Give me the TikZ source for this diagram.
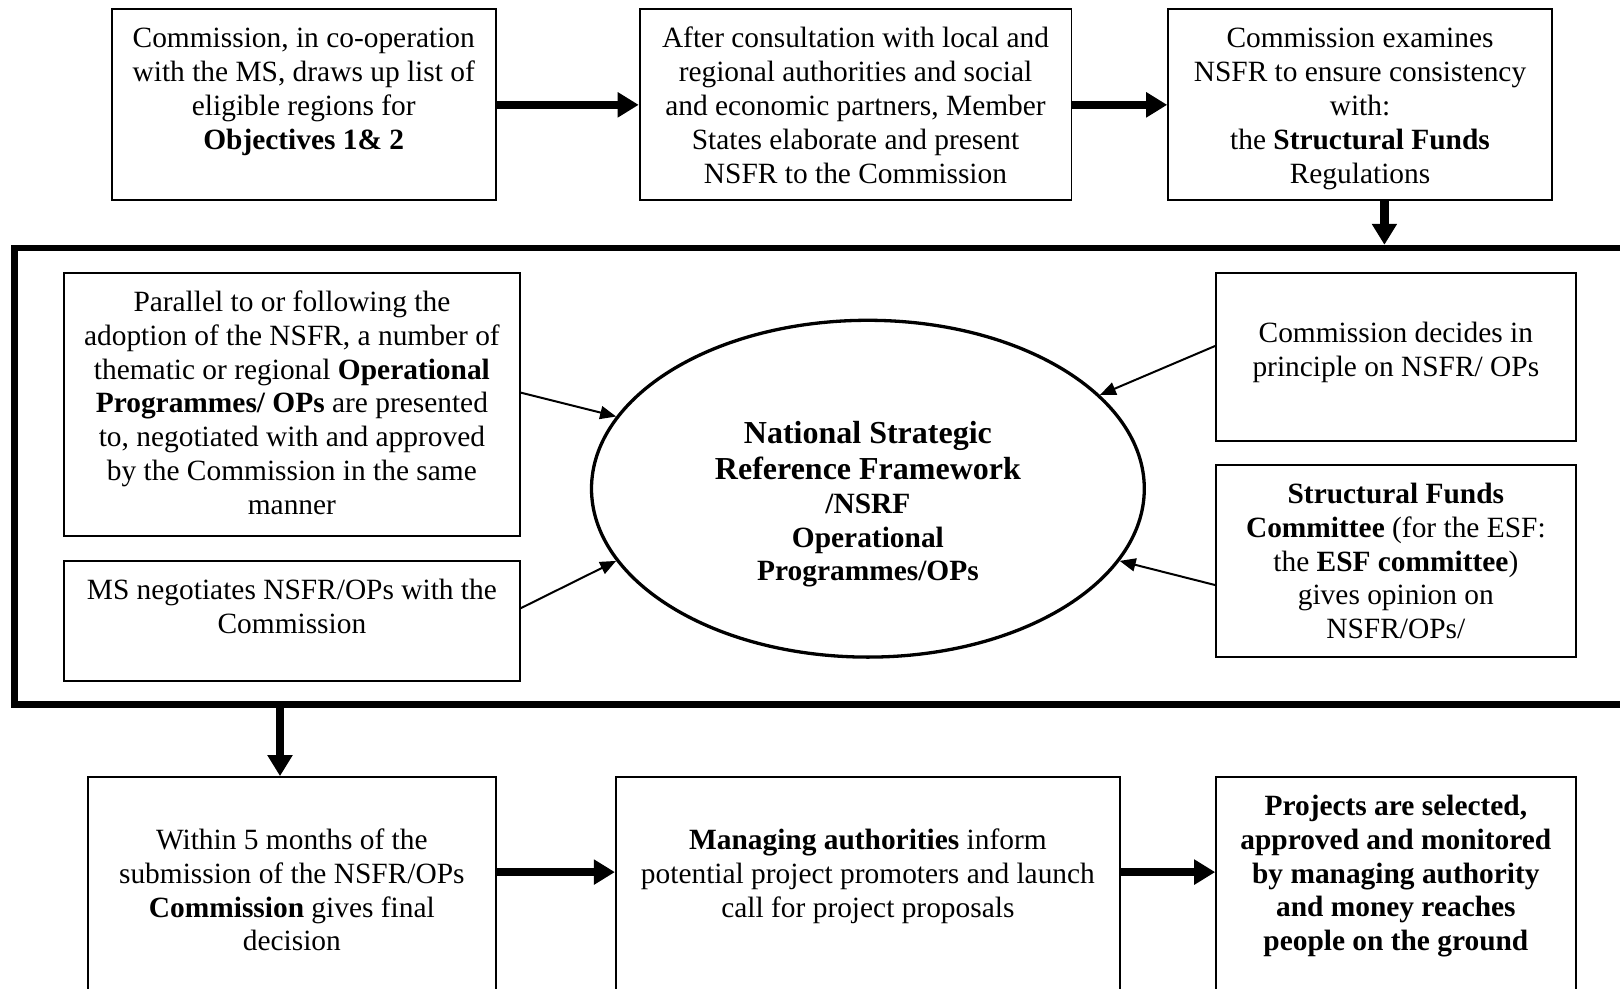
\documentclass[tikz,border=0pt]{standalone}
\usepackage{fontspec}
\setmainfont{Liberation Serif}
\usetikzlibrary{arrows.meta,calc,shapes.geometric}
\begin{document}
\begin{tikzpicture}[x=0.5pt,y=-0.5pt,
  box/.style={draw, rectangle, line width=0.9pt, inner sep=0pt},
  txt/.style={anchor=north, inner sep=0pt, align=center, font=\fontsize{14.7}{16.9}\selectfont},
  etxtbig/.style={anchor=north, inner sep=0pt, align=center, font=\fontsize{16}{18.1}\selectfont\bfseries},
  etxt/.style={anchor=north, inner sep=0pt, align=center, font=\fontsize{14.7}{16.9}\selectfont\bfseries},
  thickarrow/.style={line width=4.2pt, -{Triangle[length=10.5pt,width=12pt]}},
  thinarrow/.style={line width=1pt, -{Triangle[length=8pt,width=6.5pt]}}
]
\path[use as bounding box] (0,0) rectangle (1620,989);
\clip (0,0) rectangle (1620,989);
\def\st{\rule{0pt}{11pt}}
% top row
\node[box, minimum width=192.15pt, minimum height=95.55pt] (b1) at (303.75,104.85) {};
\node[box, minimum width=215.9pt, minimum height=95.55pt] (b2) at (855.5,104.85) {};
\node[box, minimum width=191.9pt, minimum height=95.55pt] (b3) at (1360,104.85) {};
\node[txt] (b1t) at (303.75,25.5) {\st Commission, in co-operation\\ with the MS, draws up list of\\ eligible regions for\\ \textbf{Objectives 1\& 2}};
\node[txt] (b2t) at (855.5,25.5) {\st After consultation with local and\\ regional authorities and social\\ and economic partners, Member\\ States elaborate and present\\ NSFR to the Commission};
\node[txt] (b3t) at (1360,25.5) {\st Commission examines\\ NSFR to ensure consistency\\ with:\\ the \textbf{Structural Funds}\\ Regulations};
% frame
\node[draw, rectangle, line width=3.2pt, inner sep=0pt, minimum width=812.75pt, minimum height=228.3pt] (frame) at (827.25,476.3) {};
% left boxes
\node[box, minimum width=227.8pt, minimum height=131.7pt] (l1) at (291.9,404.5) {};
\node[box, minimum width=227.8pt, minimum height=59.95pt] (l2) at (291.9,620.95) {};
\node[txt] (l1t) at (291.9,289) {\st Parallel to or following the\\ adoption of the NSFR, a number of\\ thematic or regional \textbf{Operational}\\ \textbf{Programmes/ OPs} are presented\\ to, negotiated with and approved\\ by the Commission in the same\\ manner};
\node[txt] (l2t) at (291.9,577) {\st MS negotiates NSFR/OPs with the\\ Commission};
% right boxes
\node[box, minimum width=179.75pt, minimum height=84.2pt] (r1) at (1395.85,357) {};
\node[box, minimum width=179.75pt, minimum height=96.1pt] (r2) at (1395.85,561) {};
\node[txt] (r1t) at (1395.85,320) {\st Commission decides in\\ principle on NSFR/ OPs};
\node[txt] (r2t) at (1395.85,481) {\st \textbf{Structural Funds}\\ \textbf{Committee} (for the ESF:\\ the \textbf{ESF committee})\\ gives opinion on\\ NSFR/OPs/};
% ellipse
\node[draw, ellipse, line width=1.65pt, inner sep=0pt, minimum width=276.4pt, minimum height=168.4pt] (nsrf) at (867.9,488.7) {};
\node[etxtbig] (nsrft) at (867.9,420.4) {\st National Strategic\\ Reference Framework};
\node[etxt] (nsrfu) at (867.9,490.9) {\st /NSRF\\ Operational\\ Programmes/OPs};
% bottom boxes
\node[box, minimum width=204.05pt, minimum height=111.5pt] (d1) at (291.85,888.5) {};
\node[box, minimum width=252.1pt, minimum height=111.5pt] (d2) at (867.9,888.5) {};
\node[box, minimum width=179.75pt, minimum height=111.5pt] (d3) at (1395.85,888.5) {};
\node[txt] (d1t) at (291.85,827) {\st Within 5 months of the\\ submission of the NSFR/OPs\\ \textbf{Commission} gives final\\ decision};
\node[txt] (d2t) at (867.9,827) {\st \textbf{Managing authorities} inform\\ potential project promoters and launch\\ call for project proposals};
\node[txt, font=\fontsize{14.7}{16.9}\selectfont\bfseries] (d3t) at (1395.85,793) {\st Projects are selected,\\ approved and monitored\\ by managing authority\\ and money reaches\\ people on the ground};
% thick arrows
\draw[thickarrow] (b1) -- (b2);
\draw[thickarrow] (b2) -- (b3);
\coordinate (c3) at ($(b3.south)+(24.4,0)$);
\draw[thickarrow] (c3) -- (c3 |- frame.north);
\coordinate (c4) at ($(d1.north)+(-11.85,0)$);
\draw[thickarrow] (c4 |- frame.south) -- (c4);
\draw[thickarrow] ($(d1.north east)+(0,96)$) -- ($(d2.north west)+(0,96)$);
\draw[thickarrow] ($(d2.north east)+(0,96)$) -- ($(d3.north west)+(0,96)$);
% thin arrows
\draw[thinarrow] ($(l1.north east)!0.455!(l1.south east)$) -- (nsrf.164);
\draw[thinarrow] ($(l2.north east)!0.396!(l2.south east)$) -- (nsrf.196);
\draw[thinarrow] ($(r1.north west)!0.435!(r1.south west)$) -- (nsrf.22.7);
\draw[thinarrow] ($(r2.north west)!0.624!(r2.south west)$) -- (nsrf.344);
\end{tikzpicture}
\end{document}
